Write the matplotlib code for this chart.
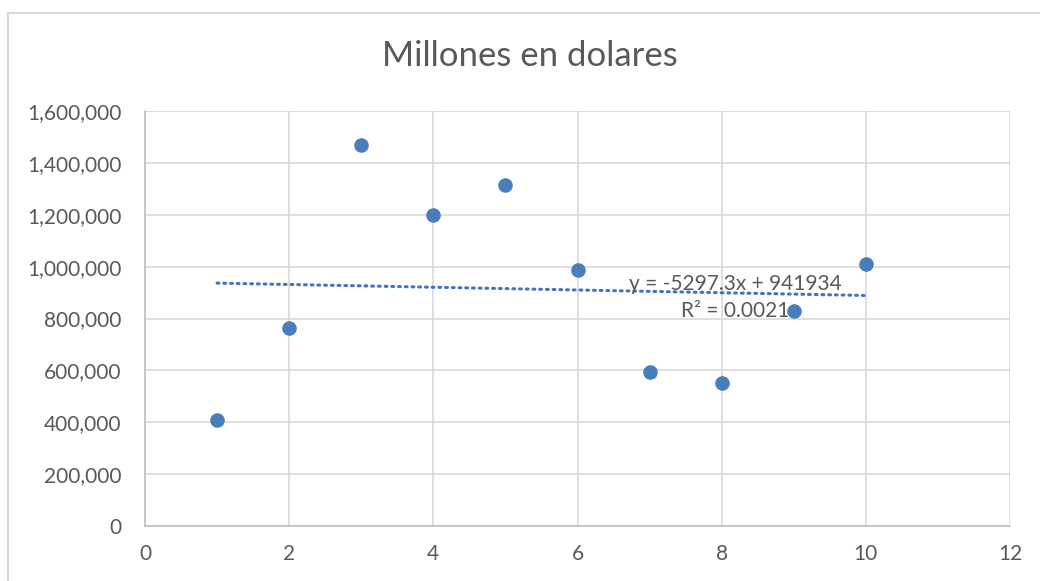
import matplotlib
matplotlib.use('Agg')
import matplotlib.pyplot as plt
from matplotlib.lines import Line2D
from matplotlib.ticker import FuncFormatter, MultipleLocator
import numpy as np

plt.rcParams['font.family'] = ['Lato', 'DejaVu Sans']

# data
periodo = [1, 2, 3, 4, 5, 6, 7, 8, 9, 10]
millones = [410000, 765000, 1467000, 1199000, 1315000, 988000, 592000, 550000, 828000, 1012000]

text_color = '#595959'
grid_color = '#d9d9d9'
point_color = '#4a7ebb'
trend_color = '#4472c4'

fig = plt.figure(figsize=[10.4, 5.81], dpi=100)
ax = fig.add_axes([145 / 1040, 1 - 526 / 581, 865 / 1040, 415 / 581])

# outer chart border (left and top edges visible)
fig.add_artist(Line2D([8 / 1040, 8 / 1040], [0, 1 - 12.5 / 581], color=grid_color, lw=1.5, transform=fig.transFigure))
fig.add_artist(Line2D([8 / 1040, 1], [1 - 12.5 / 581, 1 - 12.5 / 581], color=grid_color, lw=1.5, transform=fig.transFigure))

ax.scatter(periodo, millones, s=110, color=point_color, zorder=3, linewidths=0)

# linear trendline
slope, intercept = np.polyfit(periodo, millones, 1)
xs = np.array([periodo[0], periodo[-1]])
ax.plot(xs, slope * xs + intercept, color=trend_color, lw=2.2, linestyle=(0, (0.6, 1.6)),
        dash_capstyle='round', zorder=2)

ax.text(8.19, 933000, 'y = -5297.3x + 941934', ha='center', va='center', fontsize=15, color=text_color, zorder=4)
ax.text(8.19, 827000, 'R² = 0.0021', ha='center', va='center', fontsize=15, color=text_color, zorder=4)

ax.set_xlim(0, 12)
ax.set_ylim(0, 1600000)
ax.xaxis.set_major_locator(MultipleLocator(2))
ax.yaxis.set_major_locator(MultipleLocator(200000))
ax.yaxis.set_major_formatter(FuncFormatter(lambda v, p: '{:,.0f}'.format(v)))
ax.grid(True, color=grid_color, lw=1.2, zorder=0)
ax.set_axisbelow(True)

for side in ['top', 'right']:
    ax.spines[side].set_visible(False)
ax.spines['left'].set_color('#bfbfbf')
ax.spines['bottom'].set_color('#bfbfbf')
ax.spines['left'].set_linewidth(1.2)
ax.spines['bottom'].set_linewidth(1.2)
ax.tick_params(length=0, labelsize=15, labelcolor=text_color)
ax.tick_params(axis='x', pad=13)
ax.tick_params(axis='y', pad=17)

fig.text(530 / 1040, 1 - 56 / 581, 'Millones en dolares', ha='center', va='center', fontsize=25, color=text_color)

plt.savefig('out.png', dpi=100)
